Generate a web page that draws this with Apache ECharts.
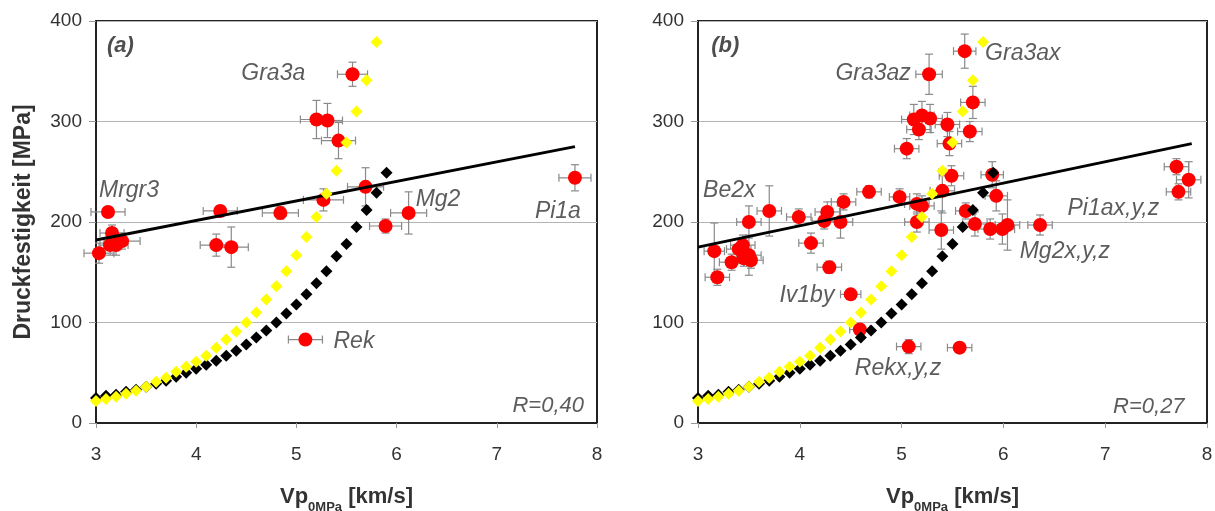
<!DOCTYPE html>
<html>
<head>
<meta charset="utf-8">
<script src="https://cdn.jsdelivr.net/npm/echarts@6/dist/echarts.min.js"></script>
<style>
html,body{margin:0;padding:0;background:#fff;}
#c{width:1215px;height:511px;}
</style>
</head>
<body>
<div id="c"></div>
<script>
// ---- data ----
var xTicks = [3, 4, 5, 6, 7, 8];
var yTicks = [0, 100, 200, 300, 400];

// model curves (x in km/s, y in MPa)
var yellowX = [3.0,3.1,3.2,3.3,3.4,3.5,3.6,3.7,3.8,3.9,4.0,4.1,4.2,4.3,4.4,4.5,4.6,4.7,4.8,4.9,5.0,5.1,5.2,5.3,5.4,5.5,5.6,5.7,5.8];
var yellowY = [22,24,26,29,32,36,41,45,51,56,61,67,75,83,91,100,110,123,136,151,167,185,205,228,251,279,310,341,379];
var blackX  = [3.0,3.1,3.2,3.3,3.4,3.5,3.6,3.7,3.8,3.9,4.0,4.1,4.2,4.3,4.4,4.5,4.6,4.7,4.8,4.9,5.0,5.1,5.2,5.3,5.4,5.5,5.6,5.7,5.8,5.9];
var blackY  = [25,27,28,31,33,36,39,42,46,50,54,58,62,67,72,78,85,92,100,109,118,128,139,151,166,178,195,212,229,249];

// panel (a) measurements: [vp, strength, vpErr, strengthErr]
var redA = [
  [5.56,347,0.15,12],[5.20,302,0.16,19],[5.31,301,0.15,17],[5.42,281,0.17,18],
  [5.69,235,0.18,19],[5.27,222,0.20,11],[6.12,209,0.18,21],[5.89,196,0.16,7],
  [7.78,244,0.16,13],[4.84,209,0.18,6],[4.24,211,0.17,5],[4.20,177,0.16,11],
  [4.35,175,0.17,20],[5.09,83,0.17,3],[3.12,210,0.17,4],[3.16,189,0.12,8],
  [3.14,177,0.10,10],[3.20,177,0.12,10],[3.26,181,0.18,8],[3.03,169,0.15,10]
];
// panel (b) measurements
var redB = [
  [5.62,370,0.11,17],[5.27,347,0.13,20],[5.70,319,0.12,16],[5.12,302,0.12,15],
  [5.20,306,0.12,14],[5.28,303,0.12,14],[5.17,292,0.12,10],[5.45,297,0.12,12],
  [5.67,290,0.12,10],[5.05,273,0.12,10],[5.47,278,0.12,12],[5.49,246,0.12,10],
  [5.89,247,0.11,13],[5.93,226,0.11,15],[5.40,231,0.12,22],[4.98,225,0.10,8],
  [5.15,218,0.12,10],[5.20,216,0.12,10],[5.15,200,0.12,10],[5.39,192,0.12,19],
  [5.63,211,0.10,8],[5.72,198,0.12,12],[5.87,193,0.12,10],[5.99,193,0.12,15],
  [6.04,197,0.12,25],[6.36,197,0.12,10],[4.68,230,0.12,6],[4.43,220,0.12,8],
  [4.27,210,0.12,10],[4.24,201,0.12,8],[4.40,200,0.12,16],[4.11,179,0.12,10],
  [4.29,155,0.12,6],[4.50,128,0.10,5],[4.59,93,0.10,5],[5.07,76,0.12,7],
  [5.57,75,0.12,5],[3.50,200,0.12,16],[3.70,211,0.12,25],[3.99,205,0.12,8],
  [3.16,171,0.10,28],[3.19,145,0.12,8],[3.33,160,0.12,8],[3.40,173,0.12,10],
  [3.44,177,0.12,10],[3.45,164,0.12,8],[3.50,167,0.12,20],[3.52,162,0.12,8],
  [7.70,255,0.12,8],[7.82,242,0.12,18],[7.72,230,0.12,8]
];
// regression lines: [vp, strength] endpoints
var fitA = [[3.0,182],[7.78,275]];
var fitB = [[3.0,175],[7.85,278]];

// labels: [vp, strength, text]
var labelsA = [[4.45,348,'Gra3a'],[3.03,231,'Mrgr3'],[6.19,222,'Mg2'],[7.38,210,'Pi1a'],[5.37,81,'Rek']];
var labelsB = [[4.35,348,'Gra3az'],[5.82,368,'Gra3ax'],[3.05,231,'Be2x'],[6.63,213,'Pi1ax,y,z'],[6.16,171,'Mg2x,y,z'],[3.80,127,'Iv1by'],[4.54,54,'Rekx,y,z']];
var panelTagA = [[3.11,375,'(a)']];
var panelTagB = [[3.13,375,'(b)']];
var rA = [[7.87,17,'R=0,40']];
var rB = [[7.78,16,'R=0,27']];

// ---- chart ----
var chart = echarts.init(document.getElementById('c'), null, {renderer:'canvas'});
var FONT = 'Liberation Sans, Arial, sans-serif';

function errRender(params, api) {
  var x = api.value(0), y = api.value(1), ex = api.value(2), ey = api.value(3);
  var c = api.coord([x, y]);
  var l = api.coord([x - ex, y]), r = api.coord([x + ex, y]);
  var t = api.coord([x, y + ey]), b = api.coord([x, y - ey]);
  var cap = 4;
  var st = {stroke: '#8a8a8a', lineWidth: 1.2};
  return {type: 'group', children: [
    {type:'line', shape:{x1:l[0], y1:c[1], x2:r[0], y2:c[1]}, style: st},
    {type:'line', shape:{x1:l[0], y1:c[1]-cap, x2:l[0], y2:c[1]+cap}, style: st},
    {type:'line', shape:{x1:r[0], y1:c[1]-cap, x2:r[0], y2:c[1]+cap}, style: st},
    {type:'line', shape:{x1:c[0], y1:t[1], x2:c[0], y2:b[1]}, style: st},
    {type:'line', shape:{x1:c[0]-cap, y1:t[1], x2:c[0]+cap, y2:t[1]}, style: st},
    {type:'line', shape:{x1:c[0]-cap, y1:b[1], x2:c[0]+cap, y2:b[1]}, style: st}
  ]};
}

function xAxisCfg(idx) {
  return {
    gridIndex: idx, type: 'value', min: 3, max: 8, interval: 1,
    axisLine: {show: true, onZero: false, lineStyle: {color: '#222', width: 2}},
    axisTick: {show: true, inside: false, length: 5, lineStyle: {color: '#999'}},
    axisLabel: {color: '#333', fontSize: 19, fontFamily: FONT, margin: 22},
    splitLine: {show: false},
    name: '{a|Vp}{b|0MPa}{a| [km/s]}',
    nameLocation: 'middle', nameGap: 61,
    nameTextStyle: {
      rich: {
        a: {fontSize: 22, fontWeight: 'bold', color: '#333', fontFamily: FONT, lineHeight: 26},
        b: {fontSize: 13, fontWeight: 'bold', color: '#333', fontFamily: FONT, lineHeight: 14, verticalAlign: 'bottom', padding: [0, 0, -4, 0]}
      }
    }
  };
}
function yAxisCfg(idx, withName) {
  var cfg = {
    gridIndex: idx, type: 'value', min: 0, max: 400, interval: 100,
    axisLine: {show: true, onZero: false, lineStyle: {color: '#222', width: 2}},
    axisTick: {show: true, inside: false, length: 7, lineStyle: {color: '#999'}},
    axisLabel: {color: '#333', fontSize: 19, fontFamily: FONT, margin: 14},
    splitLine: {show: true, lineStyle: {color: '#b4b4b4', width: 1}}
  };
  if (withName) {
    cfg.name = 'Druckfestigkeit [MPa]';
    cfg.nameLocation = 'middle';
    cfg.nameGap = 61;
    cfg.nameTextStyle = {fontSize: 23, fontWeight: 'bold', color: '#333', fontFamily: FONT};
  }
  return cfg;
}

function labelSeries(idx, data, pos, extra) {
  var st = {show: true, position: pos, distance: 0, color: '#333', fontSize: 23, fontStyle: 'italic', fontFamily: FONT,
            formatter: function (p) { return p.value[2]; }};
  if (extra) for (var k in extra) st[k] = extra[k];
  return {type: 'scatter', xAxisIndex: idx, yAxisIndex: idx, symbolSize: 0, silent: true, z: 10,
          data: data, label: st};
}

function panelSeries(idx, red, fit, labels, tag, rtxt) {
  var yel = yellowX.map(function (x, i) { return [x, yellowY[i]]; });
  var blk = blackX.map(function (x, i) { return [x, blackY[i]]; });
  return [
    {type: 'custom', xAxisIndex: idx, yAxisIndex: idx, renderItem: errRender, data: red, encode: {x: 0, y: 1}, z: 2, silent: true},
    {type: 'scatter', xAxisIndex: idx, yAxisIndex: idx, data: red.map(function (d) { return [d[0], d[1]]; }),
      symbol: 'circle', symbolSize: 14, itemStyle: {color: '#ff0000', opacity: 1}, z: 3, silent: true},
    {type: 'line', xAxisIndex: idx, yAxisIndex: idx, data: fit, showSymbol: false, lineStyle: {color: '#000', width: 3}, z: 4, silent: true},
    {type: 'scatter', xAxisIndex: idx, yAxisIndex: idx, data: blk, symbol: 'diamond', symbolSize: 12,
      itemStyle: {color: '#000', opacity: 1}, z: 5, silent: true},
    {type: 'scatter', xAxisIndex: idx, yAxisIndex: idx, data: yel, symbol: 'diamond', symbolSize: 12,
      itemStyle: {color: '#ffff00', opacity: 1}, z: 6, silent: true},
    labelSeries(idx, labels, 'right'),
    labelSeries(idx, tag, 'right', {fontWeight: 'bold', color: '#222', fontSize: 22}),
    labelSeries(idx, rtxt, 'left', {fontSize: 22})
  ];
}

var option = {
  backgroundColor: '#fff',
  animation: false,
  grid: [
    {left: 96, right: 618, top: 21, bottom: 88, show: true, borderColor: '#222', borderWidth: 2, backgroundColor: '#fff',
     containLabel: false, outerBoundsMode: 'none'},
    {left: 698, right: 8, top: 21, bottom: 88, show: true, borderColor: '#222', borderWidth: 2, backgroundColor: '#fff',
     containLabel: false, outerBoundsMode: 'none'}
  ],
  xAxis: [xAxisCfg(0), xAxisCfg(1)],
  yAxis: [yAxisCfg(0, true), yAxisCfg(1, false)],
  series: [].concat(
    panelSeries(0, redA, fitA, labelsA, panelTagA, rA),
    panelSeries(1, redB, fitB, labelsB, panelTagB, rB)
  )
};
chart.setOption(option);
</script>
</body>
</html>
